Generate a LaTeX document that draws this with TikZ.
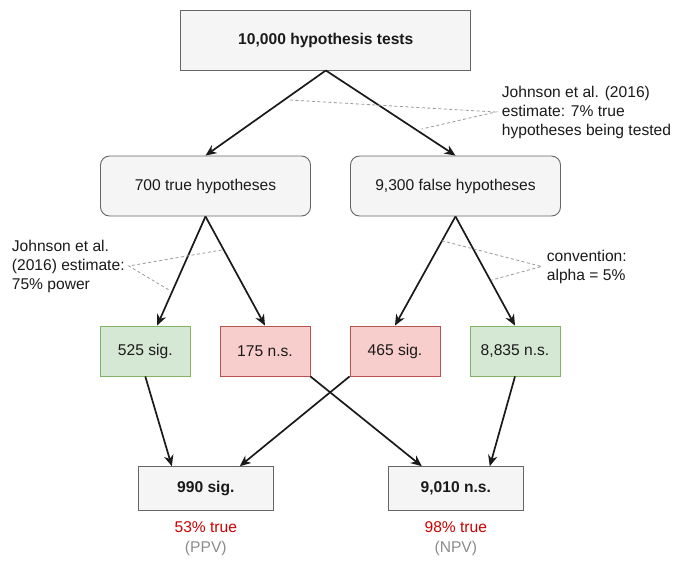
\documentclass[tikz,border=0pt]{standalone}
\usepackage{fontspec}
\setmainfont{Liberation Sans}
\usetikzlibrary{arrows.meta,calc}
\definecolor{grayfill}{HTML}{F5F5F5}
\definecolor{grayline}{HTML}{666666}
\definecolor{greenfill}{HTML}{D5E8D4}
\definecolor{greenline}{HTML}{82B366}
\definecolor{redfill}{HTML}{F8CECC}
\definecolor{redline}{HTML}{B85450}
\definecolor{inkc}{HTML}{1A1A1A}
\definecolor{dashc}{HTML}{999999}
\definecolor{redtext}{HTML}{CC0000}
\definecolor{graytext}{HTML}{8C8C8C}
\begin{document}
\begin{tikzpicture}[x=1pt,y=-1pt,
  font=\fontsize{15.6}{19}\selectfont,
  box/.style={draw, line width=0.9pt, inner sep=0pt, text=inkc},
  graybox/.style={box, draw=grayline, fill=grayfill},
  greenbox/.style={box, draw=greenline, fill=greenfill, minimum width=90pt, minimum height=50pt},
  redbox/.style={box, draw=redline, fill=redfill, minimum width=90pt, minimum height=50pt},
  hypbox/.style={graybox, rounded corners=9pt, minimum width=210pt, minimum height=60pt},
  resbox/.style={graybox, minimum width=135pt, minimum height=43.3pt, font=\fontsize{15.6}{19}\selectfont\bfseries},
  conn/.style={draw=inkc, line width=1.7pt, -{Stealth[length=11pt,width=9.5pt,inset=3.5pt]}},
  dashline/.style={draw=dashc, line width=0.8pt, dash pattern=on 3pt off 2.5pt},
  note/.style={align=left, inner sep=0pt, text=inkc},
  pv/.style={inner sep=0pt, text=redtext},
  pvname/.style={inner sep=0pt, text=graytext}]
\useasboundingbox (0,0) rectangle (691,566);
\fill[white] (0,0) rectangle (691,566);

\node[graybox, minimum width=290pt, minimum height=60pt, font=\fontsize{15.6}{19}\selectfont\bfseries] (top) at (325.8,40) {10,000 hypothesis tests};

\node[hypbox] (t) at (205.5,186) {700 true hypotheses};
\node[hypbox] (f) at (455.5,186) {9,300 false hypotheses};

\node[greenbox] (s1) at (145.3,351) {525 sig.};
\node[redbox] (s2) at (265,351) {175 n.s.};
\node[redbox] (s3) at (395,351) {465 sig.};
\node[greenbox] (s4) at (515,351) {8,835 n.s.};

\node[resbox] (r1) at (205.8,488.3) {990 sig.};
\node[resbox] (r2) at (455.8,488.3) {9,010 n.s.};

\node[pv] (p1) at (205.8,527) {53\% true};
\node[pvname] (p1n) at (205.8,548) {(PPV)};
\node[pv] (p2) at (455.8,527) {98\% true};
\node[pvname] (p2n) at (455.8,548) {(NPV)};

% connectors
\draw[conn] (top.south) -- (t.north);
\draw[conn] (top.south) -- (f.north);
\draw[conn] (t.south) -- ($(s1.north west)!0.63!(s1.north east)$);
\draw[conn] (t.south) -- (s2.north);
\draw[conn] (f.south) -- (s3.north);
\draw[conn] (f.south) -- (s4.north);
\draw[conn] (s1.south) -- ($(r1.north west)!0.25!(r1.north east)$);
\draw[conn] (s3.south west) -- ($(r1.north west)!0.75!(r1.north east)$);
\draw[conn] (s2.south east) -- ($(r2.north west)!0.25!(r2.north east)$);
\draw[conn] (s4.south) -- ($(r2.north west)!0.75!(r2.north east)$);

% annotations
\node[note, anchor=west] (a1) at (501.7,112) {Johnson et al. (2016)\\estimate: 7\% true\\hypotheses being tested};
\node[note, anchor=west] (a2) at (11.7,266) {Johnson et al.\\(2016) estimate:\\75\% power};
\node[note, anchor=west] (a3) at (546.7,266.5) {convention:\\alpha = 5\%};

\coordinate (d1a) at (290,100);
\coordinate (d1b) at (421.7,129);
\coordinate (d2a) at (221.7,250);
\coordinate (d2b) at (169,290);
\coordinate (d3a) at (441.7,240.7);
\coordinate (d3b) at (491.7,280);

\draw[dashline] (d1a) -- ([xshift=-6pt]a1.west) -- (d1b);
\draw[dashline] (d2a) -- ([xshift=4pt]a2.east) -- (d2b);
\draw[dashline] (d3a) -- ([xshift=-5pt]a3.west) -- (d3b);
\end{tikzpicture}
\end{document}
